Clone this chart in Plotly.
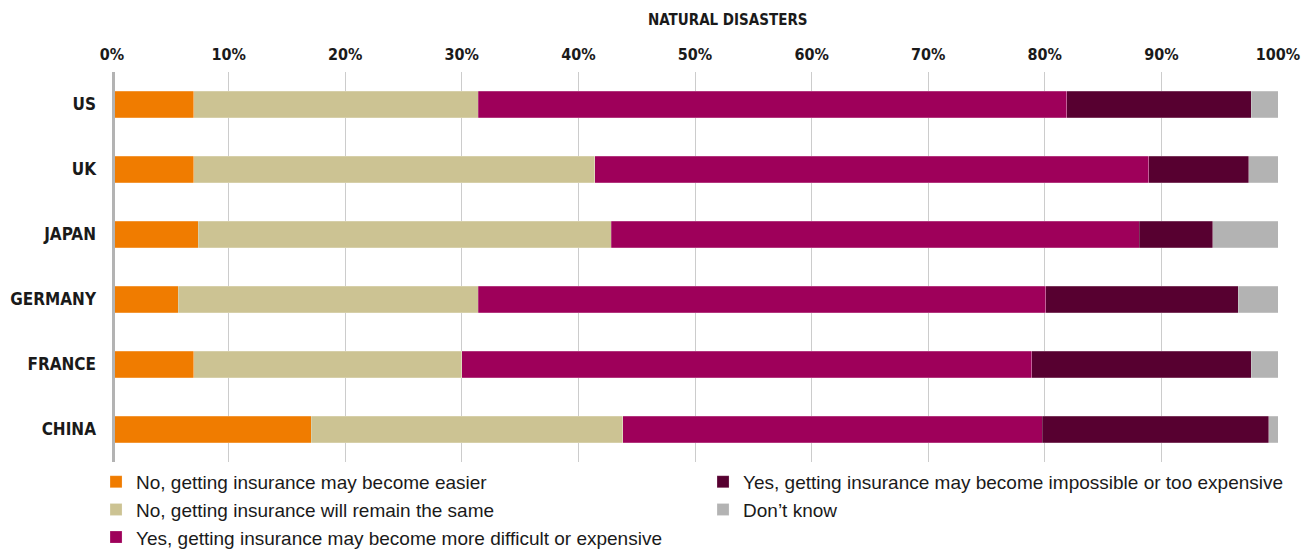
import plotly.graph_objects as go

countries = ["US", "UK", "JAPAN", "GERMANY", "FRANCE", "CHINA"]
series_names = [
    "No, getting insurance may become easier",
    "No, getting insurance will remain the same",
    "Yes, getting insurance may become more difficult or expensive",
    "Yes, getting insurance may become impossible or too expensive",
    "Don\u2019t know",
]
easier = [7.0, 7.0, 7.4, 5.7, 7.0, 17.1]
same = [24.4, 34.4, 35.4, 25.7, 23.0, 26.7]
more_difficult = [50.5, 47.5, 45.3, 48.7, 48.9, 36.0]
impossible = [15.8, 8.6, 6.3, 16.5, 18.8, 19.4]
dont_know = [2.3, 2.5, 5.6, 3.4, 2.3, 0.8]
colors = ["#F07C00", "#CCC393", "#9E005A", "#570030", "#B3B3B3"]
legend_ranks = [1, 3, 5, 2, 4]
tick_vals = [0, 10, 20, 30, 40, 50, 60, 70, 80, 90, 100]
tick_labels = ["0%", "10%", "20%", "30%", "40%", "50%", "60%", "70%", "80%", "90%", "100%"]

series_values = [easier, same, more_difficult, impossible, dont_know]

COND = "DejaVu Sans Condensed, Liberation Sans Narrow, Liberation Sans, sans-serif"
TXT = "#1a1a1a"

fig = go.Figure()
for name, vals, col, rank in zip(series_names, series_values, colors, legend_ranks):
    fig.add_trace(go.Bar(
        y=countries, x=vals, orientation="h", name=name,
        marker=dict(color=col, line=dict(color="rgba(255,255,255,0.35)", width=0.6)),
        legendrank=rank,
    ))

fig.update_layout(
    width=1310, height=559,
    barmode="stack", bargap=0.585,
    margin=dict(l=104, r=40, t=64, b=104),
    plot_bgcolor="white", paper_bgcolor="white",
    font=dict(family=COND, color=TXT),
    xaxis=dict(
        side="top", range=[0, 100], tickvals=tick_vals, ticktext=tick_labels,
        showgrid=True, gridcolor="#cccccc", gridwidth=1, zeroline=False,
        showline=False, ticks="", ticklabelstandoff=8, automargin=False,
        tickfont=dict(family=COND, size=16, color=TXT, weight="bold"),
        fixedrange=True,
    ),
    yaxis=dict(
        autorange="reversed", showgrid=False, zeroline=False, showline=False,
        ticks="", ticklabelstandoff=15, automargin=False,
        tickfont=dict(family=COND, size=17, color=TXT, weight="bold"),
    ),
    legend=dict(
        orientation="h", x=-0.0137, xanchor="left",
        y=-0.240, yanchor="bottom",
        entrywidth=562, entrywidthmode="pixels",
        font=dict(family="Liberation Sans, Arial, sans-serif", size=19, color=TXT),
        traceorder="normal", bgcolor="rgba(0,0,0,0)",
    ),
    showlegend=True,
)

fig.add_shape(type="line", xref="x", yref="paper", x0=0, x1=0, y0=0, y1=1,
              line=dict(color="#b3b3b3", width=6), layer="above")

fig.add_annotation(text="NATURAL DISASTERS", xref="paper", yref="paper",
                   x=(720 - 104) / 1166, y=1 + (64 - 12) / 391,
                   xanchor="center", yanchor="middle", showarrow=False,
                   font=dict(family=COND, size=15, color=TXT, weight="bold"))

fig.write_html("out.html")
